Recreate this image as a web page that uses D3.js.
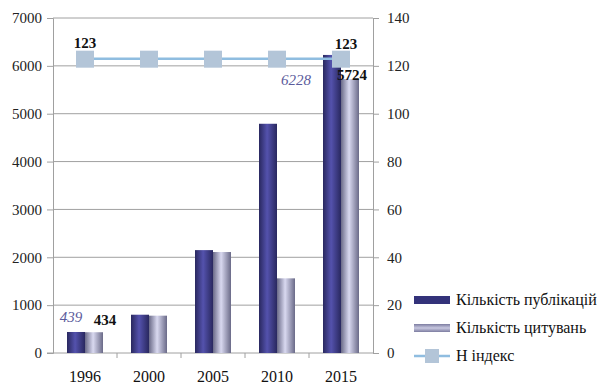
<!DOCTYPE html>
<html><head><meta charset="utf-8">
<script src="https://cdn.jsdelivr.net/npm/d3@7"></script>
</head><body style="margin:0">
<svg id="c" width="605" height="386"></svg>
<script>
const years = ["1996","2000","2005","2010","2015"];
const publications = [439, 800, 2150, 4790, 6228];
const citations = [434, 780, 2110, 1560, 5724];
const hIndex = [123, 123, 123, 123, 123];
const leftTicks = [0,1000,2000,3000,4000,5000,6000,7000];
const rightTicks = [0,20,40,60,80,100,120,140];
const legendLabels = ["Кількість публікацій","Кількість цитувань","H індекс"];

const FONT = '"Liberation Serif"';
const svg = d3.select("#c");
const L = 53, R = 373, T = 18, B = 353;
const x = d3.scaleBand().domain(years).range([L, R]).paddingInner(0).paddingOuter(0);
const y = d3.scaleLinear().domain([0,7000]).range([B, T]);
const y2 = d3.scaleLinear().domain([0,140]).range([B, T]);

svg.append("rect").attr("width",605).attr("height",386).attr("fill","#fff");
const defs = svg.append("defs");
function grad(id, edge, mid){
  const g = defs.append("linearGradient").attr("id", id).attr("x1","0").attr("x2","1").attr("y1","0").attr("y2","0");
  g.append("stop").attr("offset","0%").attr("stop-color", edge);
  g.append("stop").attr("offset","45%").attr("stop-color", mid);
  g.append("stop").attr("offset","100%").attr("stop-color", edge);
}
grad("gPub", "#29285f", "#5452ad");
grad("gCit", "#6a6a88", "#d9d9f0");

svg.append("g").selectAll("line").data(leftTicks.filter(d=>d>0)).join("line")
  .attr("x1", L).attr("x2", R).attr("y1", d=>y(d)).attr("y2", d=>y(d))
  .attr("stroke", "#a0a0a0").attr("stroke-width", 1);

const ga = svg.append("g").attr("transform", `translate(${L},0)`)
  .call(d3.axisLeft(y).tickValues(leftTicks).tickFormat(d3.format("d")).tickSize(6).tickPadding(5));
ga.select(".domain").attr("stroke", "#a0a0a0");
ga.selectAll(".tick line").attr("stroke", "#a0a0a0");
ga.selectAll("text").attr("font-size", 15).attr("fill", "#222");

const gr = svg.append("g").attr("transform", `translate(${R},0)`)
  .call(d3.axisRight(y2).tickValues(rightTicks).tickFormat(d3.format("d")).tickSize(6).tickPadding(8));
gr.select(".domain").attr("stroke", "#a0a0a0");
gr.selectAll(".tick line").attr("stroke", "#a0a0a0");
gr.selectAll("text").attr("font-size", 15).attr("fill", "#222");

svg.append("line").attr("x1", L-6).attr("x2", R).attr("y1", B).attr("y2", B).attr("stroke", "#a0a0a0");
svg.append("g").selectAll("line").data(years.slice(1)).join("line")
  .attr("x1", d=>x(d)).attr("x2", d=>x(d)).attr("y1", B).attr("y2", B+5).attr("stroke", "#a0a0a0");
svg.append("g").selectAll("text").data(years).join("text")
  .attr("x", d=>x(d)+x.bandwidth()/2).attr("y", 382).attr("text-anchor","middle")
  .attr("font-size", 16).attr("fill", "#111").text(d=>d);

const bw = 18;
const off = x.bandwidth()/2;
svg.append("g").selectAll("rect").data(years).join("rect")
  .attr("x", d=>x(d)+off-bw).attr("width", bw)
  .attr("y", (d,i)=>y(publications[i])).attr("height", (d,i)=>B-y(publications[i]))
  .attr("fill", "url(#gPub)");
svg.append("g").selectAll("rect").data(years).join("rect")
  .attr("x", d=>x(d)+off).attr("width", bw)
  .attr("y", (d,i)=>y(citations[i])).attr("height", (d,i)=>B-y(citations[i]))
  .attr("fill", "url(#gCit)");

const line = d3.line().x((d,i)=>x(years[i])+off).y(d=>y2(d));
svg.append("path").datum(hIndex).attr("d", line).attr("fill","none").attr("stroke","#8fbde0").attr("stroke-width", 2.5);
svg.append("g").selectAll("rect").data(hIndex).join("rect")
  .attr("x", (d,i)=>x(years[i])+off-9).attr("y", d=>y2(d)-8).attr("width", 18).attr("height", 17)
  .attr("fill", "#b3c5d8");

const labels = svg.append("g");
labels.append("text").attr("x", x(years[0])+off-14).attr("y", y(publications[0])-10)
  .attr("text-anchor","middle").attr("font-style","italic").attr("fill","#5b5b9c").text(publications[0]);
labels.append("text").attr("x", x(years[0])+off+20).attr("y", y(citations[0])-7)
  .attr("text-anchor","middle").attr("font-weight","bold").attr("fill","#111").text(citations[0]);
labels.append("text").attr("x", x(years[4])+off-45).attr("y", y(publications[4])+30)
  .attr("text-anchor","middle").attr("font-style","italic").attr("fill","#5b5b9c").text(publications[4]);
labels.append("text").attr("x", x(years[4])+off+11).attr("y", y(citations[4])+1)
  .attr("text-anchor","middle").attr("font-weight","bold").attr("fill","#111").text(citations[4]);
labels.append("text").attr("x", x(years[0])+off).attr("y", y2(hIndex[0])-11)
  .attr("text-anchor","middle").attr("font-weight","bold").attr("fill","#111").text(hIndex[0]);
labels.append("text").attr("x", x(years[4])+off+5).attr("y", y2(hIndex[4])-10)
  .attr("text-anchor","middle").attr("font-weight","bold").attr("fill","#111").text(hIndex[4]);
labels.selectAll("text").attr("font-size", 15);

const lg = svg.append("g");
const ly = [300, 328, 356];
lg.append("rect").attr("x", 414).attr("y", ly[0]-4).attr("width", 36).attr("height", 8).attr("fill", "#33327a");
const lgc = defs.append("linearGradient").attr("id","gLeg").attr("x1","0").attr("x2","0").attr("y1","0").attr("y2","1");
lgc.append("stop").attr("offset","0%").attr("stop-color","#7c7ca0");
lgc.append("stop").attr("offset","50%").attr("stop-color","#c8c8e0");
lgc.append("stop").attr("offset","100%").attr("stop-color","#7c7ca0");
lg.append("rect").attr("x", 414).attr("y", ly[1]-4).attr("width", 36).attr("height", 8).attr("fill", "url(#gLeg)");
lg.append("line").attr("x1", 414).attr("x2", 450).attr("y1", ly[2]).attr("y2", ly[2]).attr("stroke","#8fbde0").attr("stroke-width", 2.5);
lg.append("rect").attr("x", 425).attr("y", ly[2]-7).attr("width", 14).attr("height", 14).attr("fill","#b3c5d8");
lg.selectAll("text").data(legendLabels).join("text")
  .attr("x", 456).attr("y", (d,i)=>ly[i]+5).attr("font-size", 16).attr("fill","#111").text(d=>d);

svg.selectAll("text").style("font-family", FONT);
</script>
</body></html>
